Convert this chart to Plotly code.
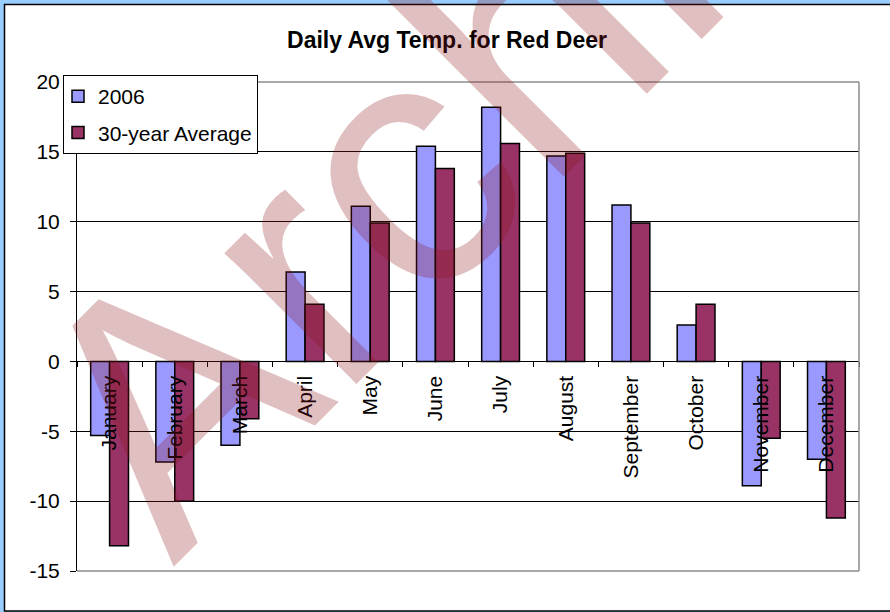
"""Daily average temperature for Red Deer: 2006 vs 30-year average, Excel-style bars."""

import plotly.graph_objects as go

MONTHS = ["January", "February", "March", "April", "May", "June", "July",
          "August", "September", "October", "November", "December"]
TEMP_2006 = [-5.3, -7.2, -6.0, 6.4, 11.1, 15.4, 18.2, 14.7, 11.2, 2.6, -8.9, -7.0]
TEMP_30YR = [-13.2, -10.0, -4.1, 4.1, 9.9, 13.8, 15.6, 14.9, 9.9, 4.1, -5.5, -11.2]
Y_TICKS = [-15, -10, -5, 0, 5, 10, 15, 20]
Y_TICK_TEXT = ["-15", "-10", "-5", "0", "5", "10", "15", "20"]

FONT = "Arial, Liberation Sans, sans-serif"
W, H = 890, 612
L, R, T, B = 77, 31, 82, 41   # plot area margins in px
PW, PH = W - L - R, H - T - B


def px_x(p):
    return (p - L) / PW


def px_y(p):
    return (H - B - p) / PH


fig = go.Figure()
fig.add_trace(go.Bar(x=MONTHS, y=TEMP_2006, name="2006", legendgroup="a",
                     marker=dict(color="#9999FF", line=dict(color="black", width=1.5))))
fig.add_trace(go.Bar(x=MONTHS, y=TEMP_30YR, name="30-year Average", legendgroup="b",
                     marker=dict(color="#993366", line=dict(color="black", width=1.5))))

# white chart area with black frame on the blue page
fig.add_shape(type="rect", xref="paper", yref="paper",
              x0=px_x(4.5), x1=px_x(900), y0=px_y(611), y1=px_y(4.5),
              fillcolor="white", line=dict(color="black", width=1.5), layer="below")
# grey plot-area border (top, right, bottom)
for x0, y0, x1, y1 in [(0, 1, 1, 1), (1, 0, 1, 1), (0, 0, 1, 0)]:
    fig.add_shape(type="line", xref="paper", yref="paper", x0=x0, y0=y0, x1=x1, y1=y1,
                  line=dict(color="#8c8c8c", width=1.5), layer="above")

# watermark
fig.add_annotation(text="Archive", xref="paper", yref="paper",
                   x=px_x(502), y=px_y(66), xanchor="center", yanchor="middle",
                   textangle=-45, showarrow=False,
                   font=dict(family=FONT, size=352, color="rgba(140,20,25,0.27)"))

fig.update_layout(
    width=W, height=H,
    margin=dict(l=L, r=R, t=T, b=B, autoexpand=False),
    paper_bgcolor="#99CCFF", plot_bgcolor="white",
    font=dict(family=FONT, size=21, color="black"),
    title=dict(text="<b>Daily Avg Temp. for Red Deer</b>", font=dict(size=23),
               xref="container", yref="container", x=447 / W, y=1 - 40 / H,
               xanchor="center", yanchor="middle"),
    barmode="group", bargap=0.42, bargroupgap=0,
    legend=dict(x=px_x(63), y=px_y(75), xanchor="left", yanchor="top",
                bgcolor="white", bordercolor="black", borderwidth=1,
                font=dict(size=21), tracegroupgap=6, itemwidth=30, indentation=-6),
    showlegend=True,
)
fig.update_xaxes(type="category", anchor="free", position=15 / 35,
                 showline=True, linecolor="black", linewidth=1,
                 ticks="outside", tickson="boundaries", ticklen=5, tickcolor="black",
                 tickangle=-90, showgrid=False, automargin=False,
                 tickfont=dict(size=21), ticklabelstandoff=5)
fig.update_yaxes(range=[-15, 20], tickvals=Y_TICKS, ticktext=Y_TICK_TEXT,
                 showline=True, linecolor="black",
                 linewidth=1, ticks="outside", ticklen=6, tickcolor="black",
                 showgrid=True, gridcolor="black", gridwidth=1, zeroline=False,
                 automargin=False, tickfont=dict(size=21), ticklabelstandoff=6)

fig.write_html("out.html", config={"displayModeBar": False},
               post_script="document.body.style.margin='0';")
